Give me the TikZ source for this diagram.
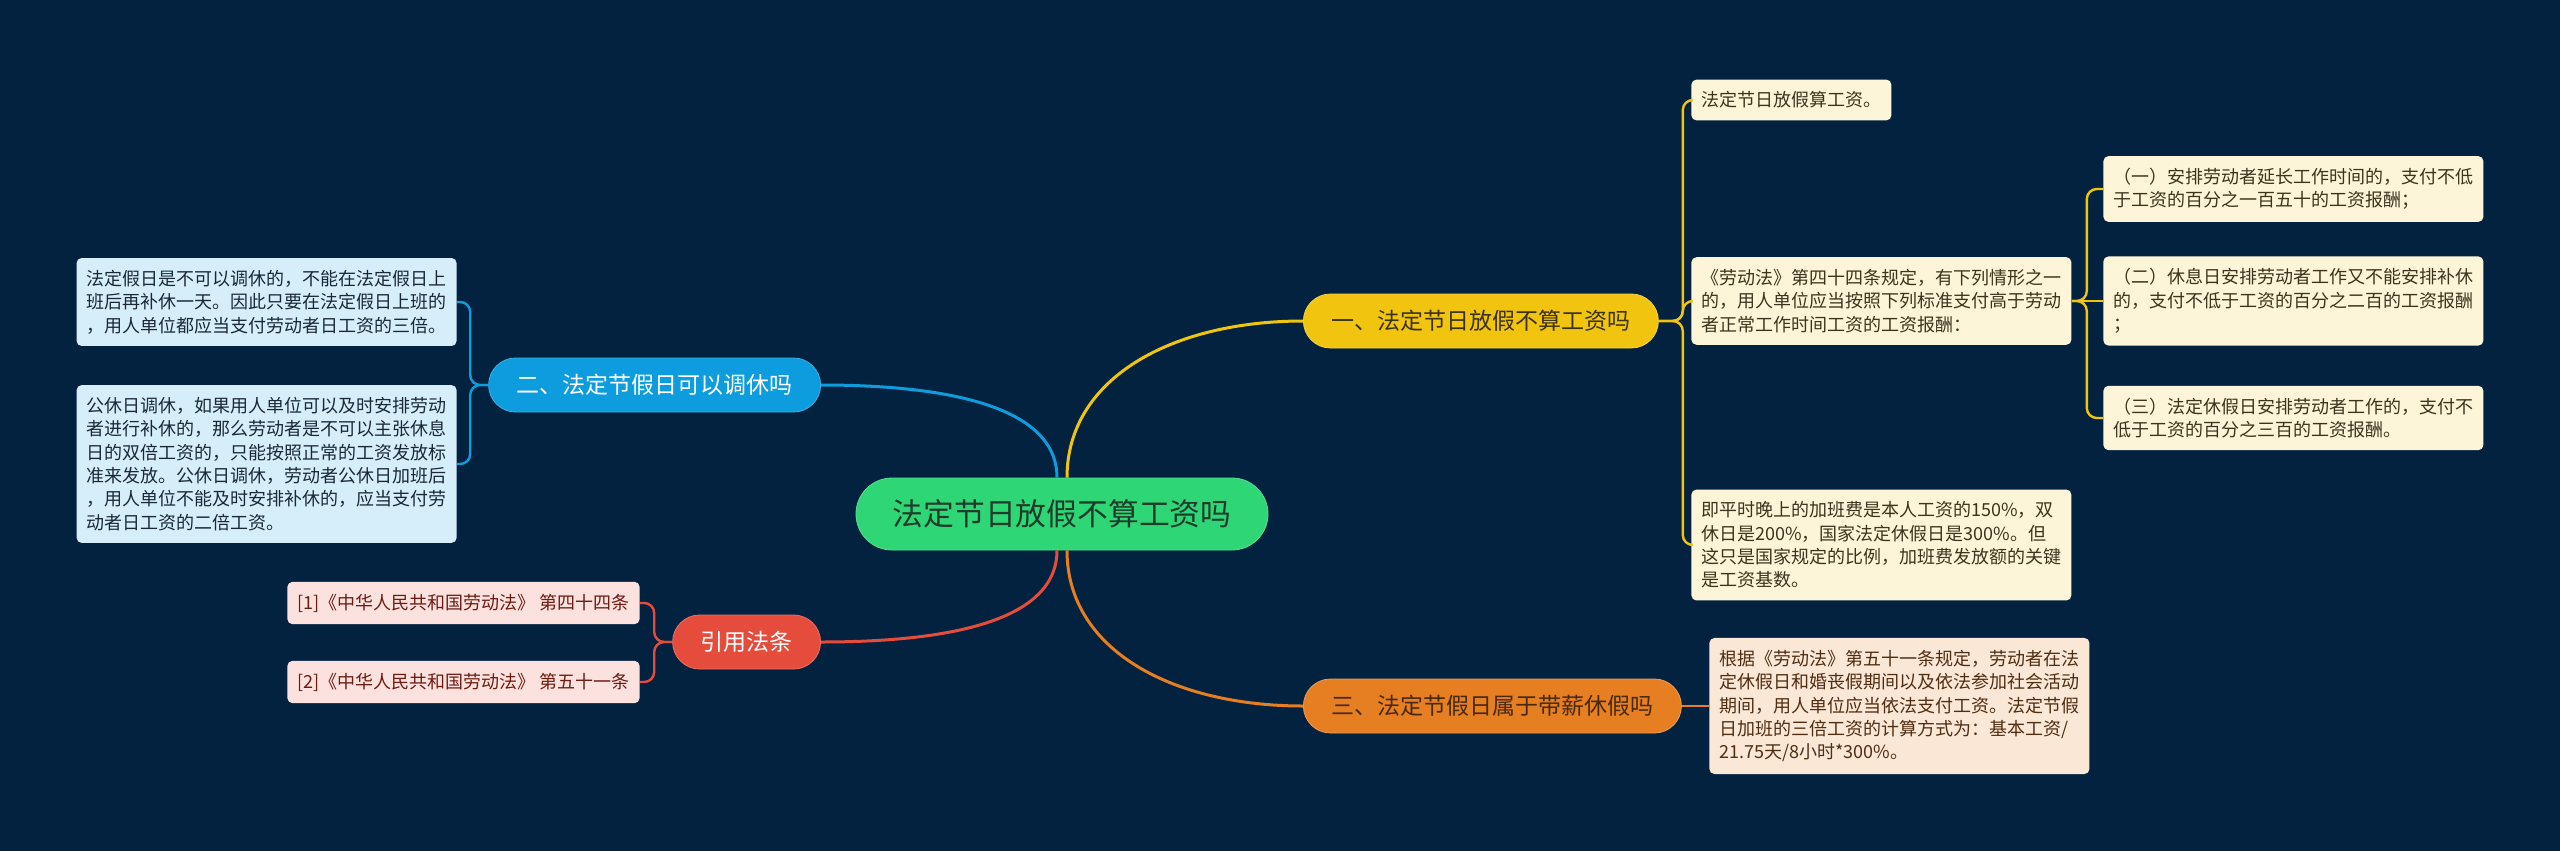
\documentclass[tikz,border=0pt]{standalone}
\usepackage{fontspec}
\setmainfont{Noto Sans CJK SC}
\usepackage{tikz}
\definecolor{bgnavy}{RGB}{3,34,64}
\definecolor{rootgreen}{RGB}{46,214,117}
\definecolor{rootink}{RGB}{30,60,42}
\definecolor{brY}{RGB}{241,196,15}
\definecolor{brYink}{RGB}{60,50,22}
\definecolor{leafY}{RGB}{253,245,215}
\definecolor{leafYink}{RGB}{62,52,30}
\definecolor{brB}{RGB}{13,156,222}
\definecolor{leafB}{RGB}{214,238,250}
\definecolor{leafBink}{RGB}{26,40,56}
\definecolor{brR}{RGB}{230,76,60}
\definecolor{leafR}{RGB}{252,226,222}
\definecolor{leafRink}{RGB}{110,28,18}
\definecolor{brO}{RGB}{230,126,34}
\definecolor{brOink}{RGB}{72,42,14}
\definecolor{leafO}{RGB}{251,231,214}
\definecolor{leafOink}{RGB}{80,46,18}
\tikzset{
  rootnode/.style={rectangle,rounded corners=18pt,fill=rootgreen,draw=rootgreen!80!white,
    text=rootink,minimum width=206pt,minimum height=36pt,font=\fontsize{15.4}{18}\selectfont},
  topicnode/.style={rectangle,rounded corners=13.5pt,minimum height=27pt,inner xsep=14pt,
    font=\fontsize{11.5}{14}\selectfont},
  leafnode/.style={rectangle,rounded corners=2.5pt,align=left,inner xsep=5pt,inner ysep=6pt,
    font=\fontsize{9}{11.7}\selectfont},
  mainlink/.style={line width=1.5pt},
  branchlink/.style={line width=1.2pt,rounded corners=5pt},
}

\begin{document}
\begin{tikzpicture}[x=0.5pt,y=-0.5pt]
  \fill[bgnavy] (0,0) rectangle (2560,851);
  \useasboundingbox (0,0) rectangle (2560,851);

  \node[rootnode] (root) at (1062,514) {法定节日放假不算工资吗};
  \node[topicnode,fill=brY,draw=brY!75!white,text=brYink,anchor=west] (t1) at (1303,321)
    {一、法定节日放假不算工资吗};
  \node[topicnode,fill=brB,draw=brB!80!white,text=white,anchor=east] (t2) at (821,385)
    {二、法定节假日可以调休吗};
  \node[topicnode,fill=brR,draw=brR!80!white,text=white,anchor=east] (t3) at (821,642)
    {引用法条};
  \node[topicnode,fill=brO,draw=brO!75!white,text=brOink,anchor=west] (t4) at (1303,706)
    {三、法定节假日属于带薪休假吗};

  \draw[mainlink,brY] ([xshift=2.5pt]root.north) .. controls +(0,-100) and +(-130,0) .. (t1.west);
  \draw[mainlink,brB] ([xshift=-2.5pt]root.north) .. controls +(0,-70) and +(130,0) .. (t2.east);
  \draw[mainlink,brR] ([xshift=-2.5pt]root.south) .. controls +(0,70) and +(130,0) .. (t3.east);
  \draw[mainlink,brO] ([xshift=2.5pt]root.south) .. controls +(0,100) and +(-130,0) .. (t4.west);

  \node[leafnode,fill=leafY,text=leafYink,anchor=west] (a1) at (1691,100)
    {法定节日放假算工资。};
  \node[leafnode,fill=leafY,text=leafYink,anchor=west] (a2) at (1691,301)
    {《劳动法》第四十四条规定，有下列情形之一\\的，用人单位应当按照下列标准支付高于劳动\\者正常工作时间工资的工资报酬：};
  \node[leafnode,fill=leafY,text=leafYink,anchor=west] (a3) at (1691,545)
    {即平时晚上的加班费是本人工资的150\%，双\\休日是200\%，国家法定休假日是300\%。但\\这只是国家规定的比例，加班费发放额的关键\\是工资基数。};
  \node[leafnode,fill=leafY,text=leafYink,anchor=west] (a21) at (2103,189)
    {（一）安排劳动者延长工作时间的，支付不低\\于工资的百分之一百五十的工资报酬；};
  \node[leafnode,fill=leafY,text=leafYink,anchor=west] (a22) at (2103,301)
    {（二）休息日安排劳动者工作又不能安排补休\\的，支付不低于工资的百分之二百的工资报酬\\；};
  \node[leafnode,fill=leafY,text=leafYink,anchor=west] (a23) at (2103,418)
    {（三）法定休假日安排劳动者工作的，支付不\\低于工资的百分之三百的工资报酬。};

  \draw[branchlink,brY] (t1.east) -- ++(24,0) |- (a1.west);
  \draw[branchlink,brY] (t1.east) -- ++(24,0) |- (a2.west);
  \draw[branchlink,brY] (t1.east) -- ++(24,0) |- (a3.west);
  \draw[branchlink,brY] (a2.east) -- ++(15,0) |- (a21.west);
  \draw[branchlink,brY] (a2.east) -- (a22.west);
  \draw[branchlink,brY] (a2.east) -- ++(15,0) |- (a23.west);

  \node[leafnode,fill=leafB,text=leafBink,anchor=east] (b1) at (457,302)
    {法定假日是不可以调休的，不能在法定假日上\\班后再补休一天。因此只要在法定假日上班的\\，用人单位都应当支付劳动者日工资的三倍。};
  \node[leafnode,fill=leafB,text=leafBink,anchor=east] (b2) at (457,464)
    {公休日调休，如果用人单位可以及时安排劳动\\者进行补休的，那么劳动者是不可以主张休息\\日的双倍工资的，只能按照正常的工资发放标\\准来发放。公休日调休，劳动者公休日加班后\\，用人单位不能及时安排补休的，应当支付劳\\动者日工资的二倍工资。};

  \draw[branchlink,brB] (t2.west) -- ++(-18,0) |- (b1.east);
  \draw[branchlink,brB] (t2.west) -- ++(-18,0) |- (b2.east);

  \node[leafnode,fill=leafR,text=leafRink,anchor=east] (c1) at (640,603)
    {[1]《中华人民共和国劳动法》 第四十四条};
  \node[leafnode,fill=leafR,text=leafRink,anchor=east] (c2) at (640,682)
    {[2]《中华人民共和国劳动法》 第五十一条};

  \draw[branchlink,brR] (t3.west) -- ++(-18,0) |- (c1.east);
  \draw[branchlink,brR] (t3.west) -- ++(-18,0) |- (c2.east);

  \node[leafnode,fill=leafO,text=leafOink,anchor=west] (d1) at (1709,706)
    {根据《劳动法》第五十一条规定，劳动者在法\\定休假日和婚丧假期间以及依法参加社会活动\\期间，用人单位应当依法支付工资。法定节假\\日加班的三倍工资的计算方式为：基本工资/\\21.75天/8小时*300\%。};

  \draw[branchlink,brO] (t4.east) -- (d1.west);
\end{tikzpicture}
\end{document}
